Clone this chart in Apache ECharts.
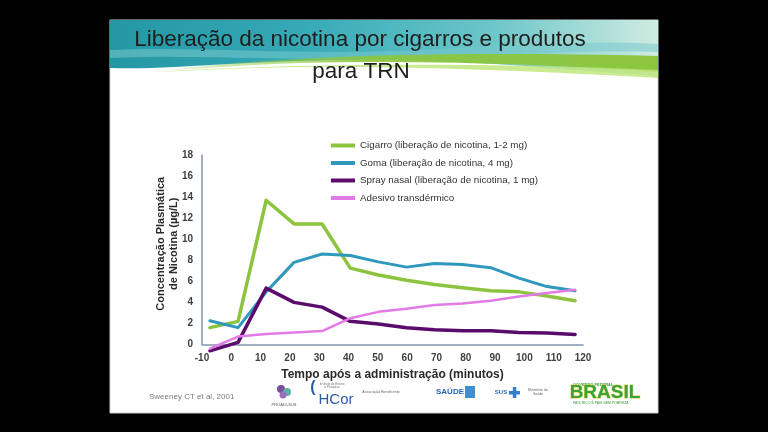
<!DOCTYPE html>
<html>
<head>
<meta charset="utf-8">
<script src="https://cdn.jsdelivr.net/npm/echarts@6/dist/echarts.min.js"></script>
<style>
html,body{margin:0;padding:0;background:#000;}
#c{width:768px;height:432px;}
</style>
</head>
<body>
<div id="c"></div>
<script>
// ---- data ----
const tempos = [-7.3, 2.3, 11.9, 21.4, 31.0, 40.6, 50.2, 59.8, 69.3, 78.9, 88.5, 98.1, 107.7, 117.3];
const cigarro = [1.6, 2.2, 13.7, 11.45, 11.45, 7.25, 6.6, 6.1, 5.7, 5.4, 5.1, 5.0, 4.6, 4.15];
const goma = [2.25, 1.6, 5.0, 7.8, 8.6, 8.45, 7.85, 7.35, 7.7, 7.6, 7.3, 6.3, 5.5, 5.1];
const spray = [-0.6, 0.2, 5.35, 4.0, 3.55, 2.2, 1.95, 1.6, 1.4, 1.3, 1.3, 1.15, 1.1, 0.95];
const adesivo = [-0.4, 0.75, 1.0, 1.15, 1.28, 2.5, 3.1, 3.4, 3.75, 3.9, 4.15, 4.55, 4.9, 5.2];
const seriesNames = [
  'Cigarro (liberação de nicotina, 1-2 mg)',
  'Goma (liberação de nicotina, 4 mg)',
  'Spray nasal (liberação de nicotina, 1 mg)',
  'Adesivo transdérmico'
];
const xMin = -10, xMax = 120, xStep = 10;
const yMin = 0, yMax = 18, yStep = 2;
const titleLines = ['Liberação da nicotina por cigarros e produtos', 'para TRN'];
const xName = 'Tempo após a administração (minutos)';
const yName = 'Concentração Plasmática\nde Nicotina (µg/L)';
const fonte = 'Sweeney CT et al, 2001';

const colors = ['#8cc43f', '#2f98bd', '#5a0b6c', '#e27be6'];
const widths = [3.5, 3, 3.5, 2.5];
const valueSets = [cigarro, goma, spray, adesivo];

function pairs(vals){ return tempos.map((t,i)=>[t, vals[i]]); }

// decoration helper: sample a cubic bezier into points
function bez(p0,p1,p2,p3,n){
  const pts=[];
  for(let k=0;k<=n;k++){
    const t=k/n, u=1-t;
    pts.push([u*u*u*p0[0]+3*u*u*t*p1[0]+3*u*t*t*p2[0]+t*t*t*p3[0],
              u*u*u*p0[1]+3*u*u*t*p1[1]+3*u*t*t*p2[1]+t*t*t*p3[1]]);
  }
  return pts;
}
const headerPts = [[110,20],[658,20]].concat(
  bez([658,76],[560,70],[470,58],[330,60],20),
  bez([330,60],[230,62],[160,70],[110,68],16));
const lightBand = bez([110,50],[200,46],[300,56],[420,50],16).concat(
  bez([420,50],[520,45],[600,40],[658,44],12),
  bez([658,52],[590,50],[520,54],[420,58],12),
  bez([420,58],[300,62],[200,54],[110,58],16));
const greenBand = bez([170,70],[260,58],[420,50],[658,56],24).concat(
  bez([658,72],[540,64],[420,60],[300,63],16),
  bez([300,63],[240,65],[200,69],[170,70],8));
const limeBand = bez([150,72],[260,66],[420,60],[658,70],24).concat(
  bez([658,78],[520,70],[400,66],[300,67],16),
  bez([300,67],[230,68],[190,71],[150,72],8));

const chart = echarts.init(document.getElementById('c'), null, {renderer:'canvas'});
const FF = '"Liberation Sans", Arial, sans-serif';

const option = {
  backgroundColor: '#000',
  animation: false,
  color: colors,
  graphic: [
    {type:'rect', z:-10, shape:{x:110,y:20,width:548,height:393}, style:{fill:'#ffffff', stroke:'#cfcfcf', lineWidth:1}},
    {type:'polygon', z:-9, shape:{points:headerPts},
      style:{fill:new echarts.graphic.LinearGradient(0,0,1,0,[
        {offset:0,color:'#2398a4'},{offset:0.35,color:'#35aab6'},{offset:0.7,color:'#6cc6c9'},{offset:1,color:'#cfece2'}])}},
    {type:'polygon', z:-8, shape:{points:lightBand}, style:{fill:'rgba(120,200,205,0.55)'}},
    {type:'polygon', z:-7, shape:{points:greenBand},
      style:{fill:new echarts.graphic.LinearGradient(0,0,1,0,[
        {offset:0,color:'rgba(140,198,62,0.2)'},{offset:0.4,color:'rgba(140,198,62,0.9)'},{offset:1,color:'#8cc63e'}])}},
    {type:'polygon', z:-7, shape:{points:limeBand}, style:{fill:'rgba(190,230,120,0.8)'}},
    {type:'text', z:5, x:360, y:40, style:{text:titleLines[0], font:'22.5px '+FF, fill:'#1e1e1e', align:'center', verticalAlign:'middle'}},
    {type:'text', z:5, x:361, y:72, style:{text:titleLines[1], font:'22.5px '+FF, fill:'#1e1e1e', align:'center', verticalAlign:'middle'}},
    {type:'text', z:5, x:149, y:397, style:{text:fonte, font:'8px '+FF, fill:'#7a7a7a', align:'left', verticalAlign:'middle'}},
    // footer logos (approximate)
    {type:'circle', shape:{cx:281,cy:389,r:4}, style:{fill:'#7a4fa0'}},
    {type:'circle', shape:{cx:287,cy:392,r:4}, style:{fill:'#5bb0a8'}},
    {type:'circle', shape:{cx:283,cy:395,r:3.5}, style:{fill:'#9a6fbf'}},
    {type:'text', x:284, y:405, style:{text:'PROADI-SUS', font:'4px '+FF, fill:'#555', align:'center', verticalAlign:'middle'}},
    {type:'text', x:313, y:388, style:{text:'(', font:'bold 16px '+FF, fill:'#2b5ea7', align:'center', verticalAlign:'middle'}},
    {type:'text', x:336, y:400, style:{text:'HCor', font:'15px '+FF, fill:'#2b5ea7', align:'center', verticalAlign:'middle'}},
    {type:'text', x:332, y:386, style:{text:'Instituto de Ensino\ne Pesquisa', font:'3px '+FF, fill:'#777', align:'center', verticalAlign:'middle'}},
    {type:'text', x:381, y:392, style:{text:'Associação Beneficente', font:'3.5px '+FF, fill:'#666', align:'center', verticalAlign:'middle'}},
    {type:'text', x:450, y:392, style:{text:'SAÚDE', font:'bold 8px '+FF, fill:'#2667b4', align:'center', verticalAlign:'middle'}},
    {type:'rect', shape:{x:465,y:386,width:10,height:12}, style:{fill:'#3f8fd0'}},
    {type:'text', x:501, y:392, style:{text:'SUS', font:'bold 6px '+FF, fill:'#2667b4', align:'center', verticalAlign:'middle'}},
    {type:'rect', shape:{x:509,y:391,width:11,height:3.5}, style:{fill:'#2f7fd0'}},
    {type:'rect', shape:{x:512.8,y:387,width:3.5,height:11}, style:{fill:'#2f7fd0'}},
    {type:'text', x:538, y:392, style:{text:'Ministério da\nSaúde', font:'3.5px '+FF, fill:'#666', align:'center', verticalAlign:'middle'}},
    {type:'text', x:573, y:385, style:{text:'GOVERNO FEDERAL', font:'bold 4px '+FF, fill:'#3a9a3a', align:'left', verticalAlign:'middle'}},
    {type:'text', x:605, y:393, style:{text:'BRASIL', font:'bold 19px '+FF, fill:'#3aa33c', stroke:'#e3d23a', lineWidth:0.8, align:'center', verticalAlign:'middle'}},
    {type:'text', x:573, y:403, style:{text:'PAÍS RICO É PAÍS SEM POBREZA', font:'3.5px '+FF, fill:'#3a9a3a', align:'left', verticalAlign:'middle'}}
  ],
  legend: {
    orient: 'vertical',
    left: 331,
    top: 139.5,
    padding: 0,
    itemWidth: 24,
    itemHeight: 4,
    itemGap: 5.5,
    icon: 'rect',
    textStyle: {fontFamily: FF, fontSize: 9.8, color: '#333', lineHeight: 12},
    data: seriesNames
  },
  grid: {left: 202, right: 185, top: 155, bottom: 87.5},
  xAxis: {
    type: 'value', min: xMin, max: xMax, interval: xStep,
    name: xName, nameLocation: 'middle', nameGap: 24, nameMoveOverlap: false,
    nameTextStyle: {fontFamily: FF, fontSize: 12, fontWeight: 'bold', color: '#2a2a2a'},
    axisLine: {show: true, onZero: false, lineStyle: {color: '#8395ae', width: 1.5}},
    axisTick: {show: false},
    splitLine: {show: false},
    axisLabel: {fontFamily: FF, fontSize: 10, fontWeight: 'bold', color: '#404040', margin: 9}
  },
  yAxis: {
    type: 'value', min: yMin, max: yMax, interval: yStep,
    name: yName, nameLocation: 'middle', nameGap: 22, nameRotate: 90, nameMoveOverlap: false,
    nameTextStyle: {fontFamily: FF, fontSize: 11, fontWeight: 'bold', color: '#2a2a2a', lineHeight: 13, padding: [0, 0, 0, 12]},
    axisLine: {show: true, onZero: false, lineStyle: {color: '#8395ae', width: 1.5}},
    axisTick: {show: false},
    splitLine: {show: false},
    axisLabel: {fontFamily: FF, fontSize: 10, fontWeight: 'bold', color: '#404040', margin: 9}
  },
  series: valueSets.map((vals, i) => ({
    name: seriesNames[i],
    type: 'line',
    data: pairs(vals),
    symbol: 'none',
    smooth: false,
    clip: false,
    lineStyle: {color: colors[i], width: widths[i], join: 'round', cap: 'round'},
    itemStyle: {color: colors[i]}
  }))
};
chart.setOption(option);
</script>
</body>
</html>
